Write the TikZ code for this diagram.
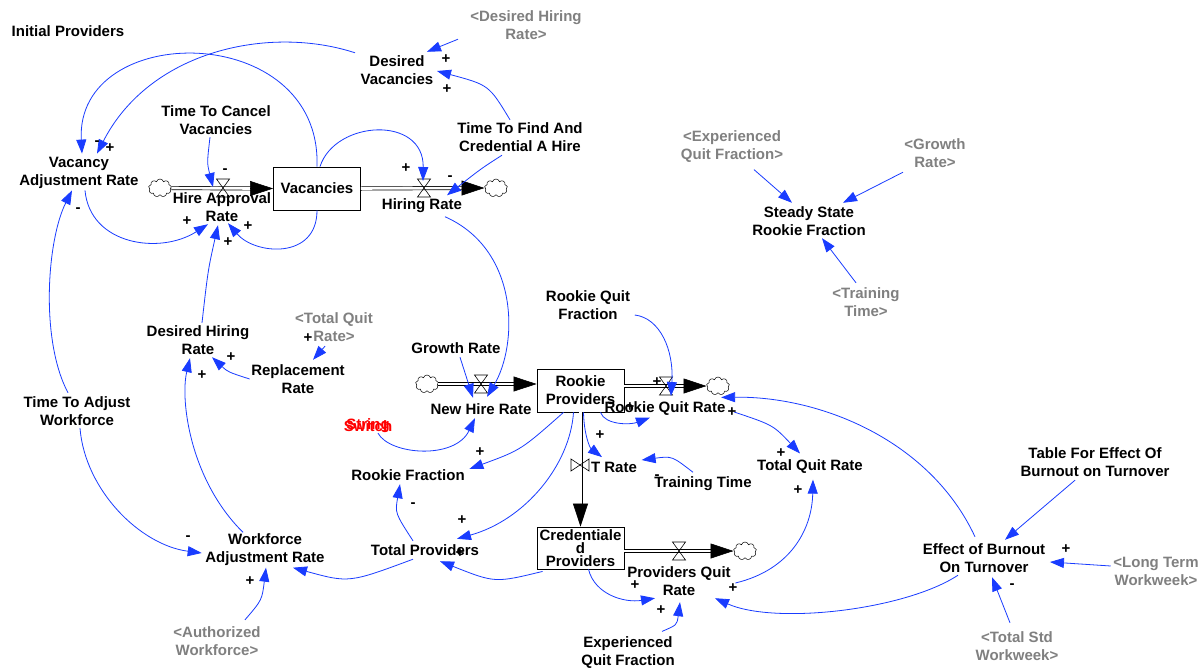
\documentclass[tikz,border=0pt]{standalone}
\usepackage{fontspec}
\setmainfont{Liberation Sans}
\usetikzlibrary{arrows.meta,shapes.symbols,calc}
\definecolor{linkblue}{RGB}{25,60,255}
\definecolor{shadowgray}{RGB}{128,128,128}
\newcommand\labelfont{\fontsize{15}{18}\selectfont\bfseries}
\tikzset{
  every node/.style={font=\labelfont, align=center, inner sep=1.5pt},
  shadow/.style={text=shadowgray},
  flag/.style={text=red},
  stock/.style={draw, line width=0.8pt, minimum width=87pt, minimum height=43pt, inner sep=0pt},
  source/.style={cloud, cloud puffs=9, aspect=1.2, draw, line width=0.5pt, minimum width=23pt, minimum height=18pt, inner sep=0pt},
  pipe/.style={draw=black, line width=0.7pt, double=white, double distance=2.6pt},
  flowhead/.style={draw=black, line width=0.6pt, -{Triangle[length=23pt,width=15pt]}},
  link/.style={draw=linkblue, color=linkblue, line width=0.8pt, -{Triangle[length=14pt,width=10pt]}},
  pol/.style={inner sep=0pt},
  hvalve/.pic={\draw[line width=0.6pt] (-6.5,-9) -- (6.5,-9) -- (-6.5,9) -- (6.5,9) -- cycle;},
  vvalve/.pic={\draw[line width=0.6pt] (-9,-6) -- (-9,6) -- (9,-6) -- (9,6) -- cycle;},
}
\begin{document}
\begin{tikzpicture}[x=1pt,y=-1pt]
\fill[white] (0,0) rectangle (1200,670);
\useasboundingbox (0,0) rectangle (1200,670);

% ---------- variables ----------
\node (ip) at (68,31) {Initial Providers};
\node[shadow] (dhrg) at (526,25) {<Desired Hiring\\Rate>};
\node (dv) at (397,70) {Desired\\Vacancies};
\node (ttcv) at (216,120) {Time To Cancel\\Vacancies};
\node (ttf) at (520,137) {Time To Find And\\Credential A Hire};
\node (var) at (79,173) {Vacancy\\Adjustment Rate};
\node (har) at (222,207) {Hire Approval\\Rate};
\node (hr) at (422,206) {Hiring Rate};
\node (ssrf) at (809,221) {Steady State\\Rookie Fraction};
\node[shadow] (eqfg) at (732,147) {<Experienced\\Quit Fraction>};
\node[shadow] (grg) at (935,153) {<Growth\\Rate>};
\node[shadow] (ttg) at (866,302) {<Training\\Time>};
\node (dhr) at (198,340) {Desired Hiring\\Rate};
\node[shadow] (tqrg) at (334,327) {<Total Quit\\Rate>};
\node (repr) at (298,379) {Replacement\\Rate};
\node (tta) at (77,411) {Time To Adjust\\Workforce};
\node (gr) at (456,348) {Growth Rate};
\node (rqf) at (588,305) {Rookie Quit\\Fraction};
\node (nhr) at (481,409) {New Hire Rate};
\node (rqr) at (665,409) {Rookie Quit Rate};
\node[flag] (sw) at (368,426) {Switch};
\node[flag] (st) at (368,426) {String};
\node (rf) at (408,475) {Rookie Fraction};
\node (tr) at (614,467) {T Rate};
\node (tt) at (703,484) {Training Time};
\node (tqr) at (810,467) {Total Quit Rate};
\node (tfe) at (1095,462) {Table For Effect Of\\Burnout on Turnover};
\node (ebt) at (984,558) {Effect of Burnout\\On Turnover};
\node[shadow] (ltw) at (1156,571) {<Long Term\\Workweek>};
\node[shadow] (tsw) at (1017,646) {<Total Std\\Workweek>};
\node (war) at (265,550) {Workforce\\Adjustment Rate};
\node[shadow] (aw) at (217,641) {<Authorized\\Workforce>};
\node (tp) at (425,550) {Total Providers};
\node (pqr) at (679,581) {Providers Quit\\Rate};
\node (eqf) at (628,653) {Experienced\\Quit Fraction};

% ---------- stocks, sources and sinks ----------
\node[stock] (vac) at (317,188.5) {Vacancies};
\node[stock] (rp) at (580.5,390.5) {Rookie\\Providers};
\node[stock, minimum height=42pt, font={\fontsize{15}{13}\selectfont\bfseries}] (cp) at (580.5,548) {Credentiale\\d\\Providers};
\node[source] (c1) at (160,188) {};
\node[source] (c2) at (496,188) {};
\node[source] (c3) at (427,384) {};
\node[source] (c4) at (718,386) {};
\node[source] (c5) at (745,551) {};

% valve positions
\coordinate (harv) at (223,188);
\coordinate (hrv) at (424,188);
\coordinate (nhrv) at (481,384);
\coordinate (rqrv) at (666,386);
\coordinate (trv) at (580,465);
\coordinate (pqrv) at (679,551);

% ---------- pipes ----------
\draw[pipe] (c1.east) -- ([xshift=-22pt]vac.west);
\draw[flowhead] ([xshift=-23pt]vac.west) -- (vac.west);
\draw[pipe] (vac.east) -- ([xshift=-22pt]c2.west);
\draw[flowhead] ([xshift=-23pt]c2.west) -- (c2.west);

\coordinate (rpin) at (c3.east -| rp.west);
\draw[pipe] (c3.east) -- ([xshift=-22pt]rpin);
\draw[flowhead] ([xshift=-23pt]rpin) -- (rpin);
\coordinate (rpout) at (c4.west -| rp.east);
\draw[pipe] (rpout) -- ([xshift=-22pt]c4.west);
\draw[flowhead] ([xshift=-23pt]c4.west) -- (c4.west);

\draw[pipe] (rp.south) -- ([yshift=22pt]cp.north);
\draw[flowhead] ([yshift=23pt]cp.north) -- (cp.north);

\coordinate (cpout) at (c5.west -| cp.east);
\draw[pipe] (cpout) -- ([xshift=-22pt]c5.west);
\draw[flowhead] ([xshift=-23pt]c5.west) -- (c5.west);

\pic at (harv) {hvalve};
\pic at (hrv) {hvalve};
\pic at (nhrv) {hvalve};
\pic at (rqrv) {hvalve};
\pic at (pqrv) {hvalve};
\pic at (trv) {vvalve};

% ---------- causal links ----------
\draw[link] (vac.north) .. controls (322,20) and (75,20) .. ([shift={(3,-2)}]var.north);
\draw[link] ([shift={(-4,-1)}]dv.north west) .. controls (270,25) and (150,50) .. ([shift={(18,-2)}]var.north);
\draw[link] ([xshift=6pt]var.south) .. controls (90,245) and (160,255) .. ([shift={(-14,1)}]har.south);
\draw[link] ([shift={(-6,1)}]ttcv.south) .. controls (207,163) .. ([shift={(-10,-1)}]harv);
\draw[link] (vac.south) .. controls (317,260) and (255,255) .. ([xshift=6pt]har.south);
\draw[link] ([shift={(4,-1)}]dhr.north) .. controls (208,270) .. ([shift={(-4,2)}]har.south);
\draw[link] ([xshift=3pt]vac.north) .. controls (335,120) and (424,115) .. ([shift={(-1,-7)}]hrv);
\draw[link] ([shift={(-18,2)}]ttf.south) .. controls (482,168) .. ([shift={(25,-2)}]hr.north);
\draw[link] ([shift={(-10,-1)}]ttf.north) .. controls (489,85) .. ([shift={(2,1)}]dv.east);
\draw[link] ([shift={(-68,-2)}]dhrg.south) -- ([shift={(30,-2)}]dv.north);
\draw[link] ([shift={(23,2)}]hr.south) .. controls (520,250) and (518,345) .. ([shift={(6,-5)}]nhr.north);
\draw[link] ([shift={(4,2)}]gr.south) -- ([shift={(-8,-4)}]nhr.north);
\draw[link] ([xshift=10pt]sw.south) .. controls (390,455) and (455,460) .. ([shift={(-6,2)}]nhr.south);
\draw[link] ([shift={(3,10)}]rqf.east) .. controls (660,318) and (674,350) .. ([shift={(5,10)}]rqrv);
\draw[link] ([xshift=20pt]rp.south) .. controls (605,425) and (630,425) .. ([xshift=-15pt]rqr.south);
\draw[link] ([shift={(7,3)}]rqr.east) .. controls (773,425) .. ([shift={(-10,-5)}]tqr.north);
\draw[link] ([shift={(-9,-5)}]ebt.north) .. controls (930,440) and (820,396) .. ([shift={(-6,-3)}]rqr.north east);
\draw[link] ([shift={(-26,1)}]ebt.south) .. controls (905,610) and (775,625) .. ([shift={(36,1)}]pqr.south);
\draw[link] ([shift={(3,2)}]pqr.east) .. controls (790,570) and (812,530) .. ([shift={(3,4)}]tqr.south);
\draw[link] ([shift={(34,-4)}]eqf.north) .. controls (677,625) .. ([shift={(1,5)}]pqr.south);
\draw[link] ([xshift=8pt]cp.south) .. controls (595,595) and (625,603) .. ([shift={(-24,1)}]pqr.south);
\draw[link] ([xshift=3pt]rp.south) .. controls (584,435) and (590,448) .. ([shift={(-12,-3)}]tr.north);
\draw[link] ([shift={(-10,-3)}]tt.north) .. controls (672,456) .. ([shift={(3,-7)}]tr.east);
\draw[link] ([xshift=-17pt]rp.south) .. controls (521,450) .. ([shift={(3,-6)}]rf.east);
\draw[link] ([xshift=-7pt]rp.south) .. controls (570,465) and (525,520) .. ([shift={(32,-4)}]tp.north);
\draw[link] ([shift={(6,2)}]cp.south west) .. controls (495,583) .. ([shift={(15,4)}]tp.south);
\draw[link] ([shift={(-12,-2)}]tp.north) .. controls (395,513) .. ([shift={(-8,2)}]rf.south);
\draw[link] ([shift={(-12,2)}]tp.south) .. controls (349,583) .. ([xshift=28pt]war.south);
\draw[link] ([shift={(28,-5)}]aw.north) .. controls (262,600) .. ([xshift=1pt]war.south);
\draw[link] ([shift={(3,1)}]tta.south) .. controls (85,490) and (140,545) .. ([shift={(-2,3)}]war.west);
\draw[link] ([xshift=-22pt]war.north) .. controls (190,480) and (180,400) .. ([shift={(-8,2)}]dhr.south);
\draw[link] (repr.west) .. controls (228,372) .. ([shift={(14,1)}]dhr.south);
\draw[link] ([shift={(-9,3)}]tqrg.south) -- ([shift={(15,-3)}]repr.north);
\draw[link] ([shift={(-9,-2)}]tta.north) .. controls (40,340) and (47,240) .. ([xshift=-7pt]var.south);
\draw[link] ([shift={(22,5)}]eqfg.south) -- ([shift={(-17,-2)}]ssrf.north);
\draw[link] ([shift={(-32,3)}]grg.south) -- ([shift={(34,-2)}]ssrf.north);
\draw[link] ([shift={(-10,-3)}]ttg.north) -- ([shift={(13,1)}]ssrf.south);
\draw[link] ([shift={(-20,2)}]tfe.south) -- ([shift={(21,-2)}]ebt.north);
\draw[link] ([shift={(-1,-5)}]ltw.west) -- ([shift={(3,4)}]ebt.east);
\draw[link] ([shift={(-7,-7)}]tsw.north) -- ([shift={(8,3)}]ebt.south);

% ---------- link polarities ----------
\node[pol] (s1) at (97,143) {-};
\node[pol] (s2) at (110,148) {+};
\node[pol] (s3) at (78,210) {-};
\node[pol] (s4) at (187,221) {+};
\node[pol] (s5) at (228,242) {+};
\node[pol] (s6) at (248,226) {+};
\node[pol] (s7) at (225,171) {-};
\node[pol] (s8) at (406,168) {+};
\node[pol] (s9) at (450,178) {-};
\node[pol] (s10) at (446,59) {+};
\node[pol] (s11) at (447,89) {+};
\node[pol] (s12) at (231,357) {+};
\node[pol] (s13) at (202,375) {+};
\node[pol] (s14) at (308,338) {+};
\node[pol] (s15) at (657,382) {+};
\node[pol] (s16) at (630,407) {+};
\node[pol] (s17) at (732,412) {+};
\node[pol] (s18) at (781,453) {+};
\node[pol] (s19) at (798,490) {+};
\node[pol] (s20) at (733,588) {+};
\node[pol] (s21) at (635,585) {+};
\node[pol] (s22) at (661,610) {+};
\node[pol] (s23) at (600,435) {+};
\node[pol] (s24) at (657,477) {-};
\node[pol] (s25) at (480,452) {+};
\node[pol] (s26) at (462,520) {+};
\node[pol] (s27) at (460,553) {+};
\node[pol] (s28) at (413,505) {-};
\node[pol] (s29) at (188,538) {-};
\node[pol] (s30) at (250,581) {+};
\node[pol] (s31) at (1066,549) {+};
\node[pol] (s32) at (1012,586) {-};
\end{tikzpicture}
\end{document}
